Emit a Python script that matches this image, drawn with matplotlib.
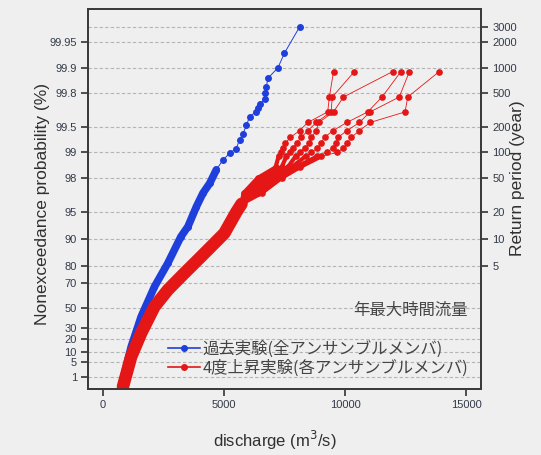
import numpy as np
import matplotlib.pyplot as plt
from matplotlib.lines import Line2D

plt.rcParams['font.family'] = ['Liberation Sans', 'DejaVu Sans']
jp = ['Noto Sans CJK JP', 'DejaVu Sans']

# 過去実験 (全メンバ): 非超過確率 (%) と年最大時間流量 (m3/s)
past_pct = [99.967, 99.933, 99.9, 99.867, 99.833, 99.8, 99.767, 99.733, 99.7, 99.667,
            99.62, 99.52, 99.4, 99.29, 99.1, 98.98, 98.77, 98.4, 97.7, 97.0,
            95.7, 92.7, 90.5, 81.4, 67.7, 41.3, 13.5, 0.26]
past_q = [8120, 7500, 7230, 6820, 6750, 6710, 6680, 6510, 6390, 6310,
          6060, 5930, 5790, 5650, 5510, 5240, 4960, 4690, 4420, 4140,
          3870, 3520, 3230, 2690, 2140, 1590, 1180, 770]

# 4度上昇実験: 各メンバ上位の非超過確率 (%)
warm_tail_pct = [99.889, 99.778, 99.667, 99.556, 99.445, 99.334, 99.223, 99.112,
                 99.0, 98.89, 98.5, 98.0, 97.0]
warm_a = [13880, 12580, 12470, 11030, 10590, 10250, 10080, 9930, 9680, 9020, 8120, 7380, 6560]
warm_b = [12650, 12230, 11030, 10590, 10070, 9700, 9620, 9480, 9270, 8860, 7960, 7130, 6390]
warm_c = [12300, 11520, 10930, 10070, 9490, 9150, 9000, 8860, 8610, 8370, 7790, 6880, 6230]
warm_d = [11960, 9930, 9520, 8910, 8810, 8600, 8530, 8330, 8120, 7960, 7630, 6720, 6060]
warm_e = [10380, 9470, 9420, 8810, 8460, 8190, 8000, 7830, 7710, 7580, 7380, 6560, 5940]
warm_f = [9520, 9350, 9280, 8460, 8120, 7740, 7540, 7420, 7340, 7260, 7130, 6390, 5810]

# 下側はメンバがほぼ重なる
warm_band_pct = [96.0, 95.0, 91.3, 87.7, 82.8, 76.3, 65.3, 51.1, 25.0, 7.2, 0.26]
warm_band_q = [5730, 5510, 5020, 4470, 3920, 3370, 2690, 2140, 1590, 1180, 840]

prob_ticks = [1, 5, 10, 20, 30, 50, 70, 80, 90, 95, 98, 99, 99.5, 99.8, 99.9, 99.95]
period_ticks = [5, 10, 20, 50, 100, 200, 500, 1000, 2000, 3000]
x_ticks = [0, 5000, 10000, 15000]

blue = '#1f3fdc'
red = '#e51616'
tick_color = '#333a48'


def gumbel(p):
    p = np.clip(np.asarray(p, dtype=float) / 100.0, 1e-12, 1 - 1e-12)
    return -np.log(-np.log(p))


def gumbel_inv(y):
    return 100.0 * np.exp(-np.exp(-np.asarray(y, dtype=float)))


fig = plt.figure(figsize=(5.41, 4.55), dpi=100, facecolor='#efefef')
ax = fig.add_axes([88 / 541, 1 - 389 / 455, 393 / 541, 380 / 455])
ax.set_facecolor('#efefef')
ax.set_yscale('function', functions=(gumbel, gumbel_inv))
ylim = (0.177, 99.9798)
ax.set_ylim(*ylim)
ax.set_xlim(-600, 15600)

# 横の補助線
period_pct = [100 - 100 / t for t in period_ticks]
for p in sorted(set(prob_ticks + period_pct[-1:])):
    ax.axhline(p, color='#b4b4b4', lw=0.8, ls=(0, (3, 2)), zorder=0)

# 過去実験
ax.plot(past_q[17:], past_pct[17:], color=blue, lw=5.5, solid_capstyle='round', zorder=2)
ax.plot(past_q, past_pct, color=blue, lw=0.7, marker='o', ms=4, zorder=3)

# 4度上昇実験
ax.plot(warm_band_q, warm_band_pct, color=red, lw=9, solid_capstyle='round', zorder=4)
for member in [warm_a, warm_b, warm_c, warm_d, warm_e, warm_f]:
    q = member + warm_band_q
    p = warm_tail_pct + warm_band_pct
    ax.plot(member[9:] + warm_band_q[:1], warm_tail_pct[9:] + warm_band_pct[:1],
            color=red, lw=3, zorder=4)
    ax.plot(q, p, color=red, lw=0.6, marker='o', ms=3.8, zorder=5)

ax.set_xticks(x_ticks)
ax.set_xticklabels([str(v) for v in x_ticks])
ax.set_yticks(prob_ticks)
ax.set_yticklabels([f'{v:g}' for v in prob_ticks])
ax.minorticks_off()
ax.tick_params(axis='both', labelsize=8, colors='#333333', labelcolor=tick_color,
               length=5, width=1.2, pad=3)

ax2 = ax.twinx()
ax2.set_yscale('function', functions=(gumbel, gumbel_inv))
ax2.set_ylim(*ylim)
ax2.set_yticks(period_pct)
ax2.set_yticklabels([str(t) for t in period_ticks])
ax2.minorticks_off()
ax2.tick_params(axis='y', labelsize=8, colors='#333333', labelcolor=tick_color,
                length=5, width=1.2, pad=3)

for a in (ax, ax2):
    for s in a.spines.values():
        s.set_color('#3a3a3a')
        s.set_linewidth(1.3)

ax.set_xlabel('discharge (m$^3$/s)', fontsize=12, color='#303030')
ax.xaxis.set_label_coords(0.476, -0.105)
ax.set_ylabel('Nonexceedance probability (%)', fontsize=12.5, color='#303030')
ax.yaxis.set_label_coords(-0.097, 0.487)
ax2.set_ylabel('Return period (year)', fontsize=12.5, color='#303030')
ax2.yaxis.set_label_coords(1.074, 0.555)

ax.text(0.82, 0.206, '年最大時間流量', transform=ax.transAxes, ha='center', va='center',
        fontsize=11.8, color='#444444', family=jp)

handles = [Line2D([], [], color=blue, lw=1.2, marker='o', ms=4),
           Line2D([], [], color=red, lw=1.2, marker='o', ms=4)]
labels = ['過去実験(全アンサンブルメンバ)', '4度上昇実験(各アンサンブルメンバ)']
ax.legend(handles, labels, loc='lower left', bbox_to_anchor=(0.182, 0.01),
          frameon=False, handlelength=2.0, handletextpad=0.1, labelspacing=0.15,
          borderpad=0, prop={'family': jp, 'size': 11.8}, labelcolor='#444444')

fig.savefig('out.png', dpi=100, facecolor=fig.get_facecolor())
